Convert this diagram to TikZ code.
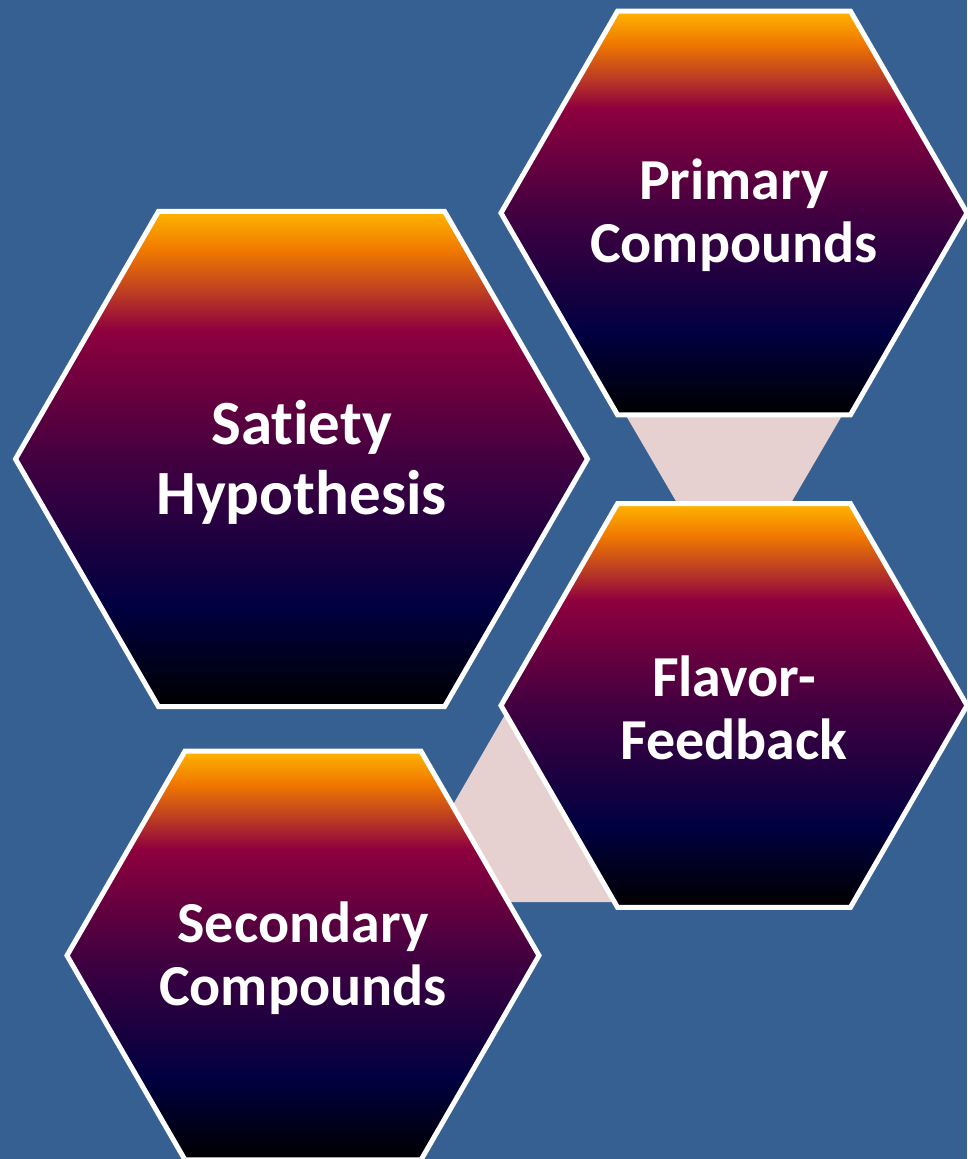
\documentclass[tikz,border=0pt]{standalone}
\usepackage{fontspec}
\setmainfont{Carlito}[Ligatures={NoCommon,NoContextual}]
\usetikzlibrary{shapes.geometric,calc,backgrounds}

\definecolor{bgblue}{RGB}{54,96,146}
\definecolor{linkpink}{RGB}{231,208,208}
\definecolor{gA}{RGB}{255,180,0}
\definecolor{gB}{RGB}{240,120,0}
\definecolor{gC}{RGB}{190,64,34}
\definecolor{gD}{RGB}{142,0,62}
\definecolor{gE}{RGB}{66,0,64}
\definecolor{gF}{RGB}{0,0,64}
\definecolor{gG}{RGB}{0,0,0}

% orange at the top, through crimson and purple to navy and black
\pgfdeclareverticalshading{hexfill}{100bp}{%
  color(0bp)=(gG); color(25bp)=(gG); color(35bp)=(gF); color(50bp)=(gE);
  color(63bp)=(gD); color(67bp)=(gC); color(71bp)=(gB); color(75bp)=(gA);
  color(100bp)=(gA)}

\tikzset{
  hexcell/.style={regular polygon, regular polygon sides=6, inner sep=0pt,
    outer sep=0pt, draw=white, line width=5pt, shade, shading=hexfill,
    minimum size=#1},
  hexlabel/.style={text=white, align=center,
    font=\bfseries\fontsize{58}{63}\selectfont},
  biglabel/.style={text=white, align=center,
    font=\bfseries\fontsize{63}{70}\selectfont},
  link/.style={fill=linkpink}
}

\begin{document}
\begin{tikzpicture}[x=1pt,y=-1pt]
  \useasboundingbox (0,0) rectangle (967,1159);

  % hexagon cells
  \node[hexcell=466pt] (prim) at (734,213) {};
  \node[hexcell=572pt] (sat)  at (301.5,459) {};
  \node[hexcell=466pt] (flav) at (734,705.5) {};
  \node[hexcell=472pt] (sec)  at (303,955.5) {};

  % cell captions
  \node[hexlabel] (primt) at ($(prim)+(0,2)$) {Primary\\Compounds};
  \node[biglabel] (satt)  at ($(sat)+(0,3)$)  {Satiety\\Hypothesis};
  \node[hexlabel] (flavt) at ($(flav)+(0,2)$) {Flavor-\\Feedback};
  \node[hexlabel] (sect)  at ($(sec)+(0,3)$)  {Secondary\\Compounds};

  % backdrop and the bands that join neighbouring cells
  \begin{scope}[on background layer]
    \fill[bgblue] (0,0) rectangle (967,1159);
    \fill[link] ($(prim)+(-113,194)$) -- ($(prim)+(113,194)$)
      -- ($(flav)+(52,-194)$) -- ($(flav)+(-52,-194)$) -- cycle;
    \fill[link] ($(flav)+(-224,0.5)$) -- ($(sec)+(129.6,-115.5)$)
      -- ($(sec)+(167,-53.5)$) -- ($(flav)+(-94,196.5)$) -- cycle;
  \end{scope}
\end{tikzpicture}
\end{document}
